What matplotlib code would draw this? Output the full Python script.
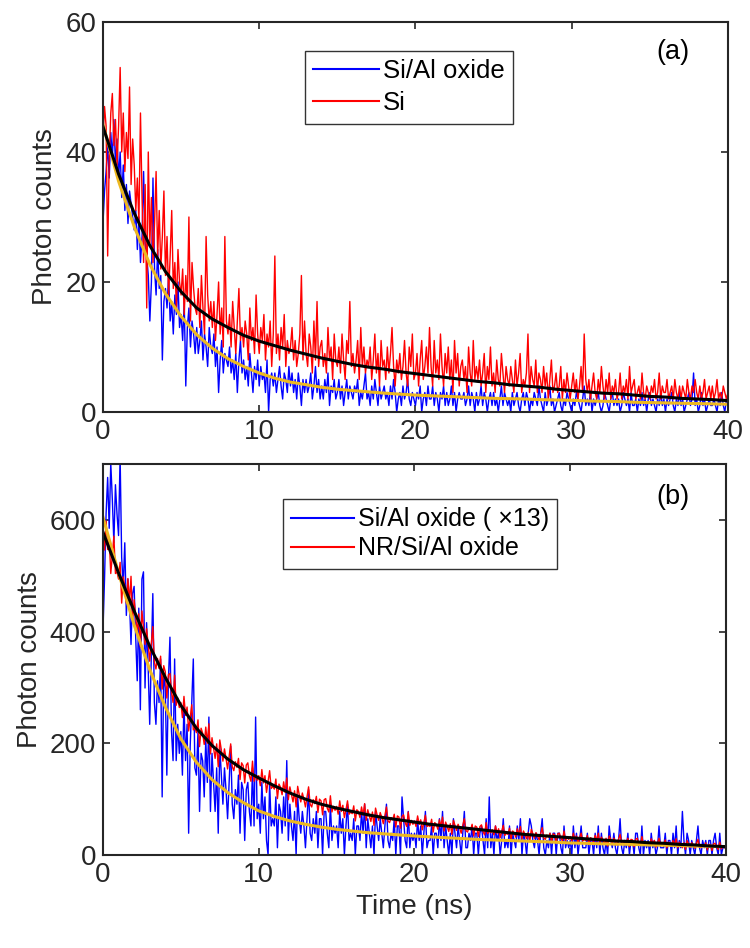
import numpy as np
import matplotlib.pyplot as plt

plt.rcParams['font.family'] = ['Liberation Sans', 'DejaVu Sans']

# time bin width of the decay traces (ns)
dt = 0.1

# panel (a): raw photon counts, one row per ns
blue_a = [29, 34, 37, 41, 36, 43, 39, 45, 38, 42,
          36, 40, 33, 38, 31, 35, 29, 34, 32, 30,
          28, 31, 25, 30, 23, 27, 37, 26, 24, 21,
          14, 20, 36, 22, 18, 25, 19, 21, 8, 17,
          19, 16, 21, 14, 17, 12, 18, 15, 20, 13,
          15, 11, 17, 4, 13, 16, 10, 14, 12, 9,
          13, 9, 11, 14, 8, 12, 10, 7, 13, 10,
          9, 12, 7, 10, 3, 8, 11, 6, 9, 8,
          7, 10, 6, 8, 5, 9, 3, 8, 11, 6,
          8, 5, 7, 4, 9, 6, 3, 7, 5, 8,
          4, 7, 5, 6, 3, 8, 0, 5, 6, 4,
          6, 3, 5, 7, 4, 2, 6, 5, 3, 7,
          4, 6, 3, 5, 2, 6, 4, 1, 5, 3,
          5, 3, 4, 6, 2, 4, 7, 3, 5, 2,
          4, 2, 5, 3, 6, 1, 4, 3, 5, 2,
          3, 5, 2, 4, 1, 3, 5, 2, 4, 3,
          2, 4, 3, 5, 1, 3, 2, 4, 6, 2,
          3, 1, 4, 2, 5, 3, 1, 4, 2, 3,
          4, 2, 3, 1, 4, 2, 5, 3, 0, 2,
          3, 1, 4, 2, 3, 5, 2, 1, 3, 2,
          1, 3, 2, 4, 0, 2, 3, 1, 4, 2,
          2, 4, 1, 3, 2, 0, 3, 2, 4, 1,
          3, 1, 2, 4, 1, 3, 0, 2, 3, 2,
          2, 3, 1, 2, 4, 1, 3, 2, 0, 3,
          1, 2, 4, 1, 3, 2, 0, 2, 3, 1,
          3, 1, 2, 0, 2, 4, 1, 3, 2, 1,
          2, 0, 3, 1, 2, 3, 1, 0, 2, 3,
          1, 3, 2, 0, 2, 1, 3, 2, 1, 4,
          2, 1, 0, 3, 1, 2, 4, 1, 2, 0,
          1, 2, 3, 1, 0, 2, 1, 3, 2, 1,
          0, 2, 1, 3, 2, 1, 0, 2, 4, 1,
          2, 1, 3, 0, 2, 1, 2, 3, 1, 0,
          1, 3, 2, 1, 0, 2, 3, 1, 2, 1,
          2, 0, 1, 3, 2, 1, 2, 0, 3, 1,
          1, 2, 0, 2, 1, 3, 1, 2, 0, 2,
          3, 1, 2, 1, 0, 2, 1, 3, 1, 2,
          0, 2, 1, 2, 3, 1, 0, 2, 1, 3,
          1, 2, 0, 1, 2, 3, 1, 2, 6, 1,
          2, 0, 1, 3, 1, 2, 0, 1, 2, 1,
          1, 2, 1, 0, 2, 1, 3, 1, 0, 2,
          1]

red_a = [42, 47, 44, 24, 39, 46, 49, 41, 45, 38,
         44, 53, 40, 46, 37, 43, 39, 50, 35, 42,
         38, 31, 36, 29, 46, 33, 23, 35, 16, 40,
         26, 33, 23, 29, 37, 24, 31, 22, 27, 34,
         21, 27, 18, 24, 31, 19, 23, 16, 25, 20,
         18, 22, 15, 21, 17, 30, 14, 23, 19, 16,
         15, 19, 13, 21, 16, 12, 27, 18, 14, 17,
         13, 17, 11, 15, 20, 12, 16, 10, 27, 14,
         12, 15, 10, 17, 13, 9, 14, 19, 11, 13,
         10, 14, 12, 8, 16, 11, 13, 9, 18, 12,
         9, 13, 11, 15, 8, 12, 10, 14, 7, 12,
         24, 9, 12, 8, 13, 10, 15, 7, 11, 9,
         10, 13, 8, 11, 7, 9, 12, 21, 8, 14,
         9, 7, 12, 10, 6, 14, 8, 17, 7, 10,
         11, 7, 9, 6, 13, 8, 10, 5, 12, 8,
         7, 10, 6, 12, 8, 5, 11, 9, 17, 7,
         9, 6, 8, 11, 5, 13, 7, 10, 6, 8,
         7, 10, 5, 8, 12, 6, 9, 4, 11, 7,
         8, 5, 10, 6, 9, 13, 7, 4, 8, 6,
         9, 5, 7, 11, 6, 4, 10, 7, 12, 5,
         6, 9, 4, 8, 11, 5, 7, 10, 6, 13,
         7, 4, 11, 6, 8, 5, 12, 7, 4, 9,
         6, 10, 5, 8, 3, 11, 6, 9, 4, 7,
         8, 5, 7, 3, 10, 6, 4, 11, 5, 7,
         5, 8, 4, 6, 9, 3, 7, 5, 10, 4,
         6, 3, 8, 5, 4, 9, 6, 3, 7, 5,
         4, 7, 5, 3, 8, 4, 6, 9, 3, 5,
         4, 6, 12, 3, 7, 5, 4, 8, 3, 6,
         5, 3, 7, 4, 6, 2, 5, 8, 3, 4,
         6, 3, 4, 7, 2, 5, 3, 6, 4, 2,
         4, 6, 3, 5, 2, 4, 7, 3, 12, 5,
         3, 5, 2, 4, 6, 3, 2, 5, 3, 7,
         4, 2, 5, 3, 6, 2, 4, 3, 5, 2,
         3, 6, 2, 4, 3, 5, 2, 7, 3, 4,
         5, 2, 3, 4, 2, 6, 3, 2, 4, 3,
         2, 4, 3, 5, 2, 3, 6, 2, 4, 3,
         3, 5, 2, 3, 4, 2, 5, 3, 2, 4,
         2, 4, 3, 2, 5, 3, 2, 4, 3, 5,
         3, 2, 4, 2, 3, 5, 2, 3, 4, 2,
         4, 2, 3, 5, 2, 3, 2, 4, 3, 2,
         3]

# panel (b): Si/Al oxide raw counts (drawn x13) and NR/Si/Al oxide counts
blue_b_counts = [31, 38, 47, 52, 45, 54, 49, 43, 51, 47,
                 44, 55, 41, 37, 43, 33, 38, 35, 29, 36,
                 37, 30, 24, 34, 20, 38, 39, 23, 32, 26,
                 18, 27, 36, 21, 18, 24, 21, 27, 8, 25,
                 23, 11, 24, 30, 17, 13, 27, 13, 18, 14,
                 17, 11, 21, 13, 18, 3, 15, 21, 27, 12,
                 11, 17, 6, 14, 13, 8, 16, 10, 19, 6,
                 14, 10, 6, 12, 3, 15, 11, 7, 12, 9,
                 5, 10, 15, 7, 5, 9, 7, 11, 3, 10,
                 9, 2, 9, 10, 6, 4, 12, 4, 19, 5,
                 7, 3, 10, 5, 8, 2, 0, 10, 4, 5,
                 4, 8, 1, 7, 6, 3, 8, 4, 13, 2,
                 7, 4, 2, 6, 0, 8, 5, 3, 6, 4,
                 1, 5, 9, 3, 2, 5, 3, 6, 1, 5,
                 5, 0, 6, 6, 3, 1, 7, 2, 4, 3,
                 4, 1, 6, 3, 5, 0, 4, 7, 2, 3,
                 2, 5, 0, 4, 4, 2, 6, 3, 7, 1,
                 5, 3, 1, 4, 0, 6, 4, 2, 5, 3,
                 1, 4, 7, 2, 1, 3, 2, 5, 0, 4,
                 4, 0, 8, 5, 2, 1, 6, 1, 3, 2,
                 3, 1, 5, 2, 4, 0, 3, 6, 1, 2,
                 2, 4, 0, 3, 3, 1, 5, 2, 6, 1,
                 4, 2, 0, 3, 0, 5, 3, 1, 4, 2,
                 0, 3, 6, 1, 1, 3, 2, 4, 0, 3,
                 3, 0, 3, 4, 2, 0, 5, 1, 8, 1,
                 3, 0, 4, 2, 3, 0, 2, 5, 1, 2,
                 1, 4, 0, 3, 2, 1, 4, 2, 5, 0,
                 3, 2, 0, 3, 5, 4, 2, 1, 3, 2,
                 0, 3, 5, 1, 0, 2, 1, 3, 0, 3,
                 3, 0, 3, 3, 1, 0, 4, 1, 2, 1,
                 2, 0, 4, 1, 3, 0, 2, 4, 1, 1,
                 1, 3, 0, 2, 2, 0, 3, 1, 4, 0,
                 3, 1, 0, 2, 0, 4, 2, 1, 3, 1,
                 0, 2, 5, 1, 0, 2, 1, 3, 0, 2,
                 2, 0, 3, 3, 1, 0, 4, 0, 2, 1,
                 2, 0, 3, 1, 2, 0, 1, 4, 1, 1,
                 1, 3, 0, 2, 2, 0, 3, 1, 4, 0,
                 2, 1, 6, 2, 0, 3, 2, 0, 2, 1,
                 0, 2, 4, 1, 0, 2, 1, 2, 0, 2,
                 2, 0, 2, 3, 1, 0, 3, 0, 1, 1,
                 1]
scale_b = 13

red_b = [585, 546, 598, 547, 567, 504, 536, 571, 504, 507,
         494, 524, 451, 498, 482, 451, 495, 450, 499, 418,
         457, 427, 398, 432, 372, 437, 407, 377, 405, 378,
         347, 378, 409, 346, 333, 352, 334, 356, 297, 339,
         328, 281, 323, 325, 291, 273, 322, 268, 281, 264,
         273, 246, 284, 250, 265, 222, 245, 269, 224, 228,
         219, 242, 194, 227, 218, 198, 229, 200, 235, 181,
         210, 191, 173, 199, 158, 206, 188, 168, 190, 173,
         154, 177, 199, 158, 151, 167, 157, 173, 135, 165,
         160, 129, 161, 165, 142, 132, 168, 132, 143, 134,
         142, 124, 153, 129, 142, 112, 131, 151, 119, 123,
         118, 136, 101, 127, 121, 108, 131, 112, 138, 99,
         122, 108, 95, 115, 86, 123, 108, 95, 111, 100,
         86, 104, 122, 91, 86, 99, 92, 105, 76, 100,
         97, 72, 99, 101, 84, 77, 106, 77, 87, 80,
         87, 73, 97, 78, 89, 67, 81, 97, 73, 77,
         74, 88, 61, 81, 78, 67, 86, 71, 92, 62,
         81, 70, 60, 77, 53, 84, 72, 62, 76, 67,
         56, 71, 86, 61, 58, 67, 63, 73, 50, 70,
         68, 48, 69, 72, 58, 51, 77, 53, 62, 55,
         61, 51, 70, 55, 63, 45, 58, 71, 51, 53,
         51, 64, 41, 58, 55, 46, 63, 51, 68, 43,
         59, 51, 42, 56, 37, 62, 53, 44, 55, 48,
         39, 53, 65, 44, 41, 49, 45, 55, 34, 52,
         50, 33, 51, 54, 42, 36, 58, 38, 44, 40,
         45, 36, 52, 39, 47, 31, 42, 53, 35, 39,
         37, 48, 28, 43, 40, 32, 47, 36, 51, 29,
         43, 36, 29, 40, 24, 46, 38, 30, 40, 34,
         27, 38, 49, 30, 28, 36, 32, 39, 23, 38,
         36, 22, 38, 39, 30, 25, 43, 26, 32, 28,
         33, 25, 39, 28, 34, 21, 31, 39, 25, 28,
         26, 35, 19, 31, 29, 23, 35, 25, 39, 21,
         32, 26, 20, 30, 16, 34, 28, 21, 30, 24,
         18, 28, 37, 22, 20, 26, 23, 30, 15, 28,
         27, 15, 28, 30, 21, 17, 33, 19, 23, 20,
         23, 17, 29, 20, 26, 14, 21, 30, 18, 20,
         19, 27, 13, 23, 21, 16, 26, 19, 29, 13,
         23, 18, 13, 22, 10, 26, 20, 14, 22, 18,
         12, 20, 28, 14, 13, 18, 16, 22, 9, 19,
         18, 8, 20, 21, 14, 10, 23, 11, 16, 13,
         15]

# fitted decay curves, sampled every 1 ns
fit_t = list(range(0, 41))
fit_a_blue = [44.2, 35.5, 28.5, 22.7, 18.2, 14.7, 11.9, 9.8, 8.2, 7.0,
              6.0, 5.2, 4.6, 4.2, 3.8, 3.5, 3.3, 3.1, 2.9, 2.75,
              2.6, 2.5, 2.4, 2.3, 2.2, 2.1, 2.05, 2.0, 1.9, 1.85,
              1.8, 1.7, 1.65, 1.6, 1.5, 1.45, 1.4, 1.35, 1.3, 1.25, 1.2]
fit_a_red = [43.9, 36.6, 30.6, 25.6, 21.6, 18.5, 16.0, 14.3, 13.0, 11.8,
             10.9, 10.2, 9.5, 8.9, 8.3, 7.8, 7.3, 6.9, 6.6, 6.2,
             5.9, 5.6, 5.3, 5.0, 4.7, 4.5, 4.2, 4.0, 3.8, 3.5,
             3.3, 3.1, 2.9, 2.8, 2.6, 2.4, 2.3, 2.1, 2.0, 1.9, 1.75]
fit_b_blue = [605, 505, 412, 332, 265, 208, 166, 135, 112, 94,
              79, 69, 61, 55, 50, 46, 43, 40, 38, 36,
              34, 32.5, 31, 29.5, 28, 27, 26, 25, 24, 23,
              21.5, 21, 20, 19.5, 19, 18, 17.5, 17, 16, 15.5, 15]
fit_b_red = [578, 505, 437, 374, 318, 268, 227, 196, 172, 153,
             138, 124, 111, 100, 91, 84, 78, 72, 67, 63,
             59, 55, 52, 49, 46, 43, 40, 37, 35, 33,
             31, 29, 27, 25, 24, 22, 21, 19, 18, 16, 15]


def bins(y):
    return np.arange(len(y)) * dt


blue_b = np.array(blue_b_counts) * scale_b

yellow = '#EDB820'
axis_col = '#262626'
data_lw = 1.0

fig = plt.figure(figsize=(7.5, 9.48), dpi=100)
ax1 = fig.add_axes([0.1373, 0.5654, 0.8333, 0.4114])
ax2 = fig.add_axes([0.1373, 0.0981, 0.8307, 0.4124])


def style(ax):
    ax.set_xlim(0, 40)
    ax.set_xticks([0, 10, 20, 30, 40])
    ax.tick_params(direction='in', top=True, right=True, length=5,
                   width=1.2, labelsize=20, colors=axis_col, pad=5)
    for s in ax.spines.values():
        s.set_linewidth(1.5)
        s.set_color(axis_col)
    ax.set_ylabel('Photon counts', fontsize=20, color=axis_col, labelpad=5)


ax1.plot(bins(blue_a), blue_a, color='#0000FF', lw=data_lw, label='Si/Al oxide')
ax1.plot(bins(red_a), red_a, color='#FF0000', lw=data_lw, label='Si')
ax1.plot(fit_t, fit_a_blue, color=yellow, lw=2.2)
ax1.plot(fit_t, fit_a_red, color='black', lw=2.2)
ax1.set_ylim(0, 60)
ax1.set_yticks([0, 20, 40, 60])
style(ax1)
leg1 = ax1.legend(loc='upper left', bbox_to_anchor=(0.323, 0.926), fontsize=18.5,
                  frameon=True, fancybox=False, edgecolor='black',
                  handlelength=2.55, handletextpad=0.15, labelspacing=0.3,
                  borderpad=0.33, borderaxespad=0)
leg1.get_frame().set_linewidth(1.0)
for ln in leg1.get_lines():
    ln.set_linewidth(1.5)
ax1.text(0.912, 0.923, '(a)', transform=ax1.transAxes, fontsize=19.5,
         ha='center', va='center')

ax2.plot(bins(blue_b), blue_b, color='#0000FF', lw=data_lw, label='Si/Al oxide ( ×13)')
ax2.plot(bins(red_b), red_b, color='#FF0000', lw=data_lw, label='NR/Si/Al oxide')
ax2.plot(fit_t, fit_b_blue, color=yellow, lw=2.2)
ax2.plot(fit_t, fit_b_red, color='black', lw=2.2)
ax2.set_ylim(0, 700)
ax2.set_yticks([0, 200, 400, 600])
style(ax2)
ax2.set_xlabel('Time (ns)', fontsize=20, color=axis_col, labelpad=4)
leg2 = ax2.legend(loc='upper left', bbox_to_anchor=(0.289, 0.910), fontsize=18,
                  frameon=True, fancybox=False, edgecolor='black',
                  handlelength=2.5, handletextpad=0.15, labelspacing=0.2,
                  borderpad=0.33, borderaxespad=0)
leg2.get_frame().set_linewidth(1.0)
for ln in leg2.get_lines():
    ln.set_linewidth(1.5)
ax2.text(0.915, 0.916, '(b)', transform=ax2.transAxes, fontsize=19.5,
         ha='center', va='center')

fig.savefig('out.png', dpi=100)
